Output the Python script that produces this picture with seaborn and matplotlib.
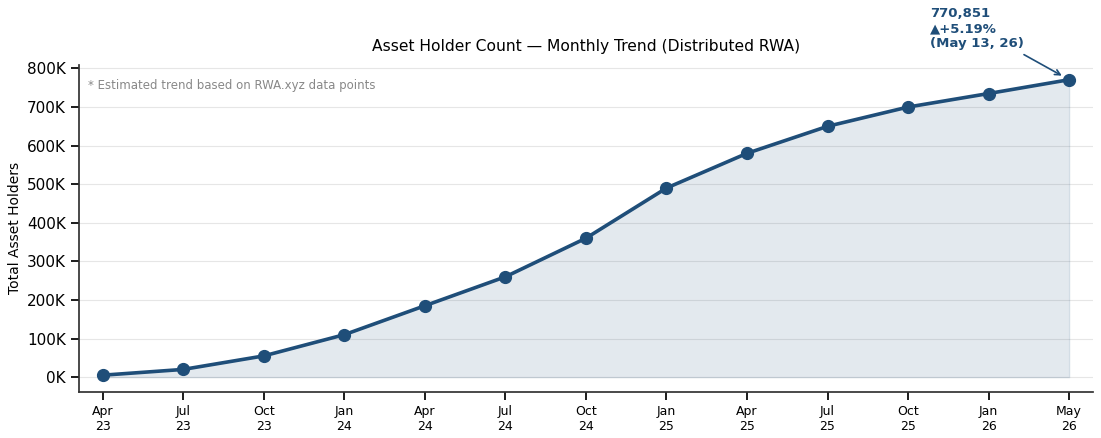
import matplotlib
matplotlib.use("Agg")
import matplotlib.pyplot as plt
import seaborn as sns
import pandas as pd
from matplotlib.ticker import FuncFormatter

months = ["Apr\n23", "Jul\n23", "Oct\n23", "Jan\n24", "Apr\n24", "Jul\n24", "Oct\n24",
          "Jan\n25", "Apr\n25", "Jul\n25", "Oct\n25", "Jan\n26", "May\n26"]
holders = [5000, 20000, 55000, 110000, 185000, 260000, 360000,
           490000, 580000, 650000, 700000, 735000, 770851]
latest_label = "770,851\n\u25B2+5.19%\n(May 13, 26)"
note = "* Estimated trend based on RWA.xyz data points"

color = "#1f4e79"

sns.set_theme(style="ticks")
plt.rcParams['font.family'] = ['DejaVu Sans']
plt.rcParams.update({"text.color": "black", "axes.labelcolor": "black",
                     "xtick.color": "black", "ytick.color": "black",
                     "axes.edgecolor": "#333333"})

df = pd.DataFrame({"idx": list(range(len(months))), "holders": holders})

fig = plt.figure(figsize=(11.01, 4.38), dpi=100)
ax = fig.add_axes([0.072, 0.105, 0.921, 0.747])

ax.fill_between(df["idx"], df["holders"], 0, color=color, alpha=0.12, linewidth=1)
sns.lineplot(data=df, x="idx", y="holders", ax=ax, color=color, linewidth=2.6,
             marker="o", markersize=8.5, markeredgecolor=color, markeredgewidth=1)

ymax = max(holders)
ax.set_ylim(-0.05 * ymax, 1.05 * ymax)
ax.set_xlim(-0.29, len(months) - 1 + 0.3)
ax.set_xticks(df["idx"])
ax.set_xticklabels(months, fontsize=9)
ax.tick_params(axis="y", labelsize=11)
ax.yaxis.set_major_formatter(FuncFormatter(lambda v, p: f"{int(round(v/1000))}K"))
ax.grid(axis="y", color="#e6e6e6", linewidth=0.8)
ax.grid(axis="x", visible=False)
sns.despine(ax=ax)
ax.set_xlabel("")
ax.set_ylabel("Total Asset Holders", fontsize=10)
ax.set_title("Asset Holder Count \u2014 Monthly Trend (Distributed RWA)", fontsize=11.2, pad=10)

ax.text(0.009, 0.936, note, transform=ax.transAxes, fontsize=8.5, color="#888888",
        va="center", ha="left")

ax.annotate(latest_label, xy=(len(months) - 1, holders[-1]), xytext=(930, 431),
            textcoords="figure pixels", ha="left", va="top", fontsize=9.5,
            fontweight="bold", color=color, linespacing=1.2,
            arrowprops=dict(arrowstyle="->", color=color, lw=1.2, shrinkB=6),
            annotation_clip=False)

fig.savefig("out.png", dpi=100)
